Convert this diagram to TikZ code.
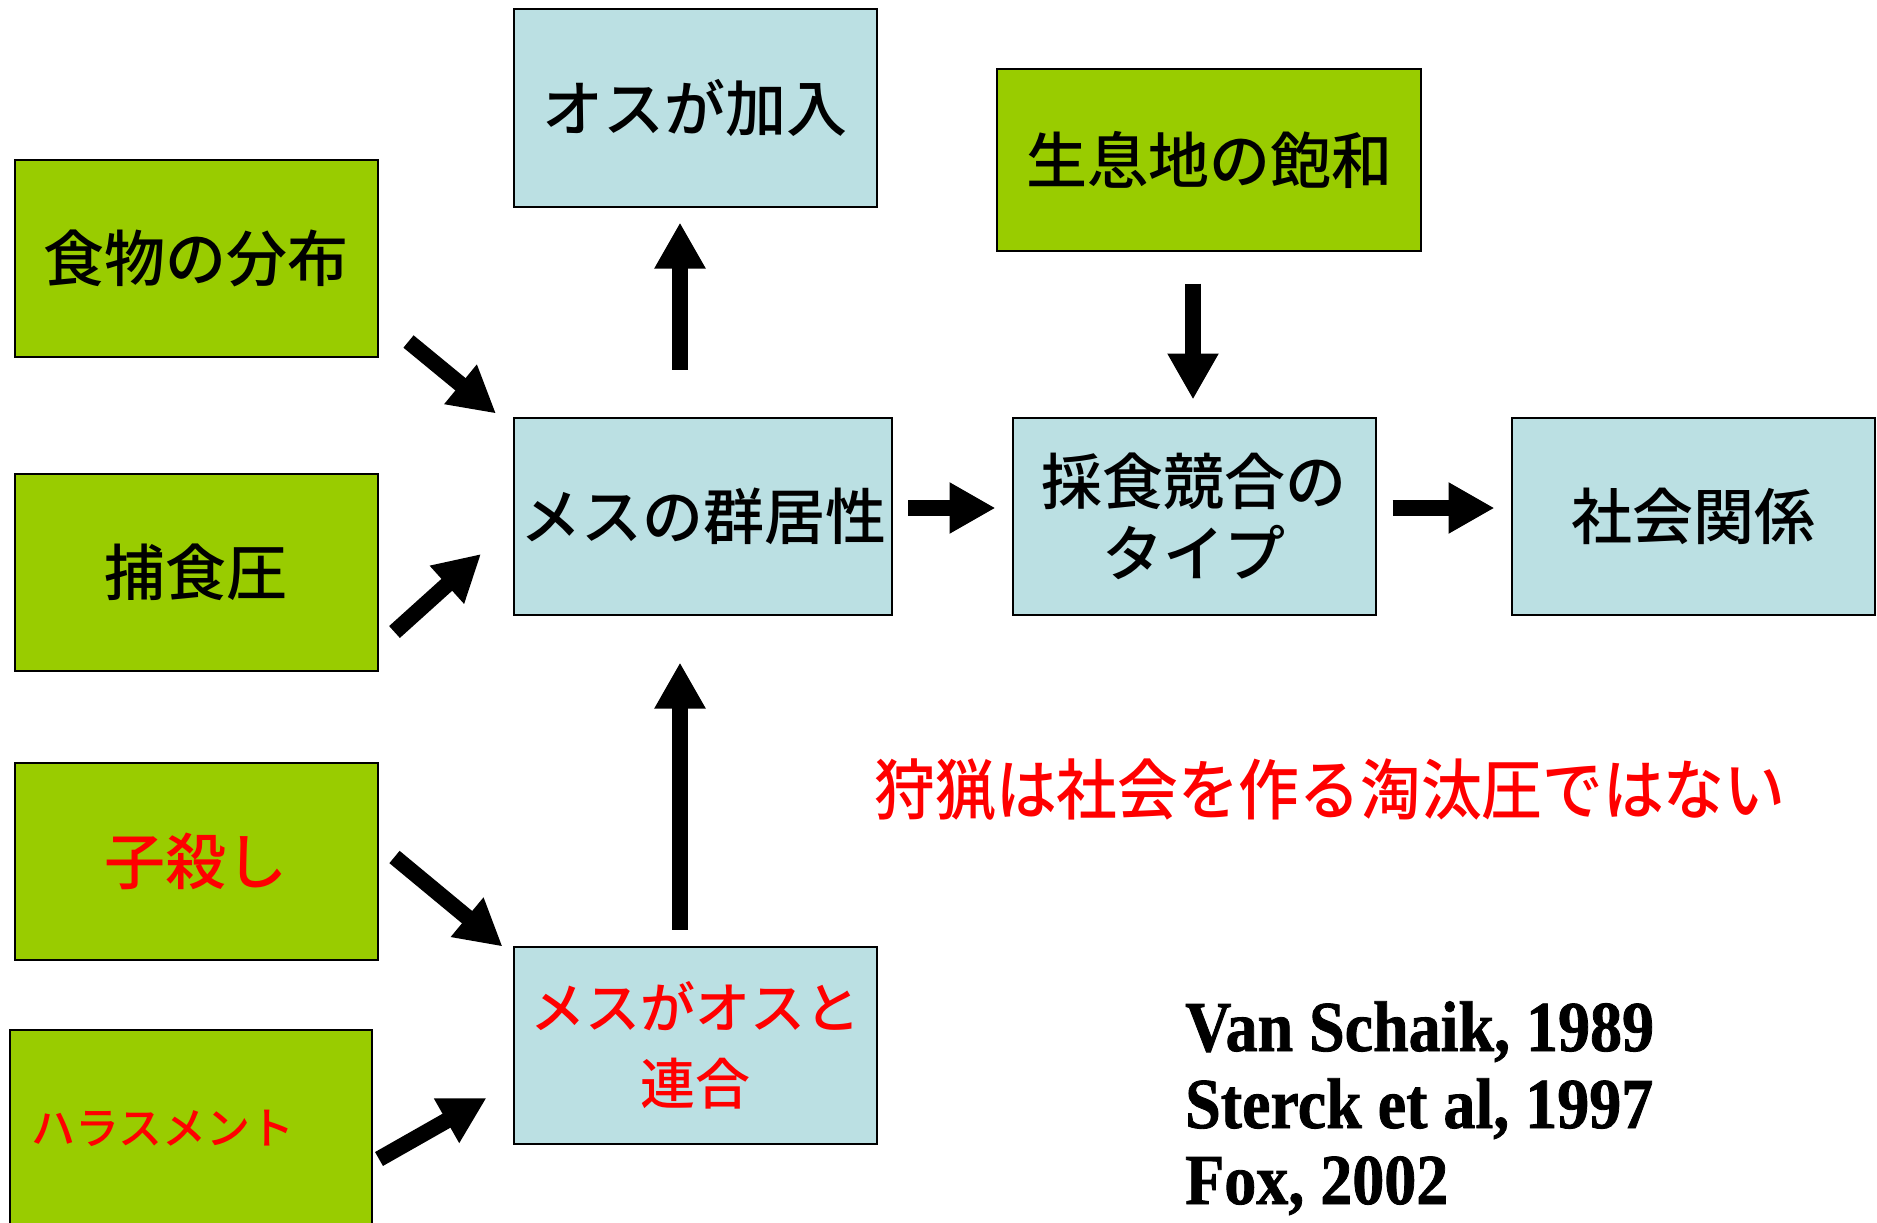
\documentclass[tikz,border=0pt]{standalone}
\usepackage{fontspec}
\newfontfamily\jp{Noto Sans CJK JP Medium}
\newfontfamily\reffont{Liberation Serif Bold}[FakeBold=1.2]
\usetikzlibrary{arrows.meta,calc}
\definecolor{grn}{HTML}{99CC00}
\definecolor{lblue}{HTML}{BBE0E3}
\definecolor{redtxt}{HTML}{FF0000}
\begin{document}
\begin{tikzpicture}[x=1pt,y=-1pt,
  box/.style={draw=black, line width=2pt, minimum width=363pt, minimum height=197pt,
    inner sep=0pt, align=center, font=\jp\fontsize{61}{72}\selectfont},
  gbox/.style={box, fill=grn},
  bbox/.style={box, fill=lblue},
  arr/.style={line width=16pt, -{Triangle[width=48pt,length=46pt]}},
  reftxt/.style={anchor=base west, inner sep=0pt, font=\reffont\fontsize{64}{77}\selectfont}
]
\useasboundingbox (0,0) rectangle (1877,1223);
\clip (0,0) rectangle (1877,1223);

\node[gbox] (food) at (196,258) {食物の分布};
\node[gbox] (pred) at (196,572) {捕食圧};
\node[gbox, text=redtxt] (infa) at (196,861) {子殺し};
\node[gbox, minimum width=362pt] (hara) at (191,1128) {};
\node[anchor=west, inner sep=0pt, text=redtxt, font=\jp\fontsize{44}{50}\selectfont] (haratxt) at ($(hara.west)+(22,0)$) {ハラスメント};

\node[bbox] (join) at (695,108) {オスが加入};
\node[bbox, minimum width=378pt] (grp) at (703,516) {メスの群居性};
\node[bbox, text=redtxt, font=\jp\fontsize{55}{76}\selectfont] (coal) at (695,1045) {メスがオスと\\連合};
\node[gbox, minimum width=424pt, minimum height=181pt] (sat) at (1209,160) {生息地の飽和};
\node[bbox] (comp) at (1194,516) {採食競合の\\タイプ};
\node[bbox] (soc) at (1693,516) {社会関係};

\node[text=redtxt, inner sep=0pt, font=\jp\fontsize{66}{70}\selectfont] (hunt) at (1330,790) {\scalebox{0.92}[1]{狩猟は社会を作る淘汰圧ではない}};

\node[reftxt] (ref1) at (1185,1051) {\scalebox{1}[1.12]{Van Schaik, 1989}};
\node[reftxt] (ref2) at (1185,1128) {\scalebox{1}[1.12]{Sterck et al, 1997}};
\node[reftxt] (ref3) at (1185,1204) {\scalebox{1}[1.12]{Fox, 2002}};

\draw[arr] ($(food.south east)+(30,-16)$) -- ($(grp.north west)+(-17,-3)$);
\draw[arr] ($(pred.east)+(16,60)$) -- ($(grp.west)+(-32,38)$);
\draw[arr] ($(grp.north)+(-23,-47)$) -- ($(join.south)+(-15,15)$);
\draw[arr] ($(coal.north)+(-15,-16)$) -- ($(grp.south)+(-23,47)$);
\draw[arr] ($(infa.east)+(16,-4)$) -- ($(coal.north west)+(-10,1)$);
\draw[arr] ($(hara.east)+(6,31)$) -- ($(coal.west)+(-26,53)$);
\draw[arr] ($(grp.east)+(15,-8)$) -- ($(comp.west)+(-16,-8)$);
\draw[arr] ($(comp.east)+(16,-8)$) -- ($(soc.west)+(-16,-8)$);
\draw[arr] ($(sat.south)+(-16,32)$) -- ($(comp.north)+(-1,-17)$);
\end{tikzpicture}
\end{document}
